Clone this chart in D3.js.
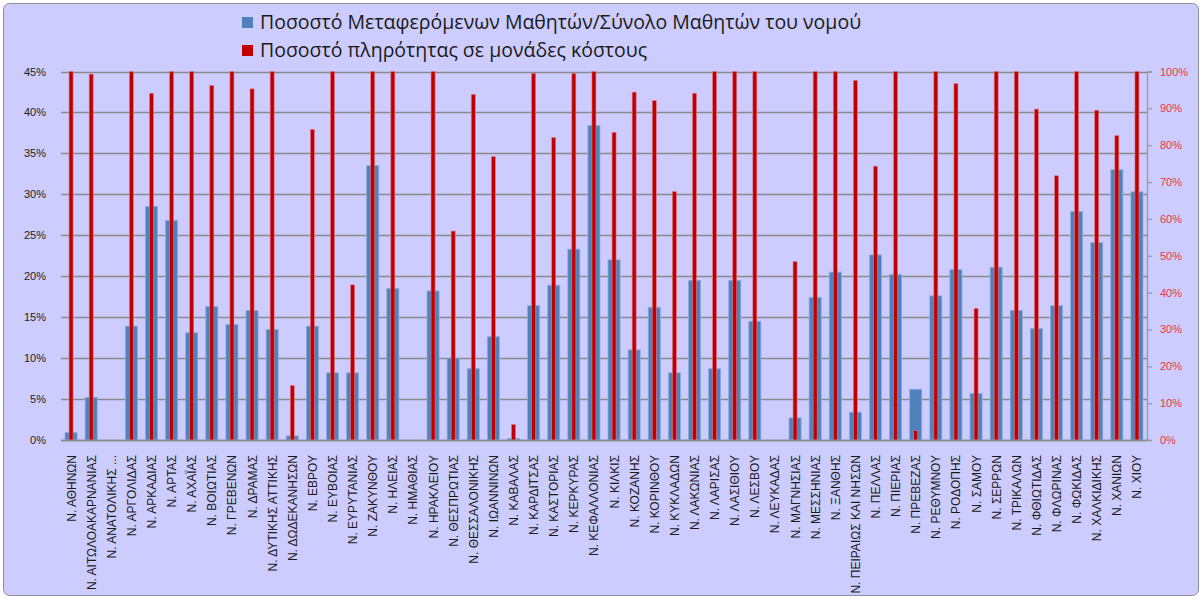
<!DOCTYPE html>
<html><head><meta charset="utf-8">
<script src="https://cdn.jsdelivr.net/npm/d3@7"></script>
<style>
html,body{margin:0;padding:0;background:#fff;}
svg{display:block;}
</style></head>
<body>
<svg id="chart" width="1203" height="603"></svg>
<script>
const categories = ["Ν. ΑΘΗΝΩΝ","Ν. ΑΙΤΩΛΟΑΚΑΡΝΑΝΙΑΣ","Ν. ΑΝΑΤΟΛΙΚΗΣ ...","Ν. ΑΡΓΟΛΙΔΑΣ","Ν. ΑΡΚΑΔΙΑΣ","Ν. ΑΡΤΑΣ","Ν. ΑΧΑΪΑΣ","Ν. ΒΟΙΩΤΙΑΣ","Ν. ΓΡΕΒΕΝΩΝ","Ν. ΔΡΑΜΑΣ","Ν. ΔΥΤΙΚΗΣ  ΑΤΤΙΚΗΣ","Ν. ΔΩΔΕΚΑΝΗΣΩΝ","Ν. ΕΒΡΟΥ","Ν. ΕΥΒΟΙΑΣ","Ν. ΕΥΡΥΤΑΝΙΑΣ","Ν. ΖΑΚΥΝΘΟΥ","Ν. ΗΛΕΙΑΣ","Ν. ΗΜΑΘΙΑΣ","Ν. ΗΡΑΚΛΕΙΟΥ","Ν. ΘΕΣΠΡΩΤΙΑΣ","Ν. ΘΕΣΣΑΛΟΝΙΚΗΣ","Ν. ΙΩΑΝΝΙΝΩΝ","Ν. ΚΑΒΑΛΑΣ","Ν. ΚΑΡΔΙΤΣΑΣ","Ν. ΚΑΣΤΟΡΙΑΣ","Ν. ΚΕΡΚΥΡΑΣ","Ν. ΚΕΦΑΛΛΟΝΙΑΣ","Ν. ΚΙΛΚΙΣ","Ν. ΚΟΖΑΝΗΣ","Ν. ΚΟΡΙΝΘΟΥ","Ν. ΚΥΚΛΑΔΩΝ","Ν. ΛΑΚΩΝΙΑΣ","Ν. ΛΑΡΙΣΑΣ","Ν. ΛΑΣΙΘΙΟΥ","Ν. ΛΕΣΒΟΥ","Ν. ΛΕΥΚΑΔΑΣ","Ν. ΜΑΓΝΗΣΙΑΣ","Ν. ΜΕΣΣΗΝΙΑΣ","Ν. ΞΑΝΘΗΣ","Ν. ΠΕΙΡΑΙΩΣ ΚΑΙ ΝΗΣΩΝ","Ν. ΠΕΛΛΑΣ","Ν. ΠΙΕΡΙΑΣ","Ν. ΠΡΕΒΕΖΑΣ","Ν. ΡΕΘΥΜΝΟΥ","Ν. ΡΟΔΟΠΗΣ","Ν. ΣΑΜΟΥ","Ν. ΣΕΡΡΩΝ","Ν. ΤΡΙΚΑΛΩΝ","Ν. ΦΘΙΩΤΙΔΑΣ","Ν. ΦΛΩΡΙΝΑΣ","Ν. ΦΩΚΙΔΑΣ","Ν. ΧΑΛΚΙΔΙΚΗΣ","Ν. ΧΑΝΙΩΝ","Ν. ΧΙΟΥ"];

// Ποσοστό Μεταφερόμενων Μαθητών/Σύνολο Μαθητών του νομού (left axis)
const transferred = [0.009,0.052,0,0.139,0.285,0.268,0.131,0.163,0.141,0.158,0.135,0.005,0.139,0.082,0.082,0.335,0.185,0,0.182,0.100,0.087,0.126,0.002,0.164,0.189,0.233,0.384,0.220,0.110,0.162,0.082,0.195,0.087,0.195,0.145,0,0.027,0.174,0.205,0.034,0.226,0.202,0.062,0.176,0.208,0.057,0.211,0.158,0.136,0.164,0.279,0.241,0.330,0.303];

// Ποσοστό πληρότητας σε μονάδες κόστους (right axis)
const occupancy = [1.00,0.993,0,1.00,0.941,1.00,1.00,0.962,1.00,0.953,1.00,0.148,0.843,1.00,0.421,1.00,1.00,0,1.00,0.567,0.938,0.769,0.042,0.995,0.821,0.995,1.00,0.835,0.944,0.921,0.674,0.941,1.00,1.00,1.00,0,0.484,1.00,1.00,0.976,0.743,1.00,0.026,1.00,0.967,0.357,1.00,1.00,0.898,0.717,1.00,0.895,0.826,1.00];

const leftTicks = [0,0.05,0.10,0.15,0.20,0.25,0.30,0.35,0.40,0.45];
const rightTicks = [0,0.1,0.2,0.3,0.4,0.5,0.6,0.7,0.8,0.9,1.0];
const seriesNames = ["Ποσοστό Μεταφερόμενων Μαθητών/Σύνολο Μαθητών του νομού","Ποσοστό πληρότητας σε μονάδες κόστους"];

const svg = d3.select("#chart");
const plot = {left: 61, right: 1147, top: 71.5, bottom: 440};
const font = "'Liberation Sans', Arial, sans-serif";

// Chart area
svg.append("rect").attr("x",3.5).attr("y",3.5).attr("width",1195).attr("height",592)
  .attr("rx",6).attr("fill","#CCCCFF").attr("stroke","#8E8E9A").attr("stroke-width",1);

const x = d3.scaleBand().domain(categories).range([plot.left, plot.right]).paddingInner(0.4).paddingOuter(0.2);
const xRed = d3.scaleBand().domain(categories).range([plot.left, plot.right]).paddingInner(0.8).paddingOuter(0.4);
const yL = d3.scaleLinear().domain([0,0.45]).range([plot.bottom, plot.top]);
const yR = d3.scaleLinear().domain([0,1]).range([plot.bottom, plot.top]);

// gridlines
svg.append("g").selectAll("line").data(leftTicks).join("line")
  .attr("x1",plot.left).attr("x2",plot.right)
  .attr("y1",d=>Math.round(yL(d))+0.5).attr("y2",d=>Math.round(yL(d))+0.5)
  .attr("stroke","#8A8A8A").attr("stroke-width",1.3);

// left axis labels
svg.append("g").selectAll("text").data(leftTicks).join("text")
  .attr("x",46).attr("y",d=>yL(d)+4)
  .attr("text-anchor","end").attr("font-family",font).attr("font-size",11).attr("fill","#222")
  .text(d=>d3.format(".0%")(d));

// blue bars
svg.append("g").selectAll("rect").data(categories).join("rect")
  .attr("x",d=>x(d)).attr("width",x.bandwidth())
  .attr("y",(d,i)=>yL(transferred[i])).attr("height",(d,i)=>plot.bottom-yL(transferred[i]))
  .attr("fill","#4F81BD").attr("stroke","#8EACD8").attr("stroke-width",0.8)
  .attr("display",(d,i)=>transferred[i]>0?null:"none");

// red bars
svg.append("g").selectAll("rect").data(categories).join("rect")
  .attr("x",d=>xRed(d)).attr("width",xRed.bandwidth())
  .attr("y",(d,i)=>yR(occupancy[i])).attr("height",(d,i)=>plot.bottom-yR(occupancy[i]))
  .attr("fill","#C00000").attr("stroke","#E07A8A").attr("stroke-width",0.6)
  .attr("display",(d,i)=>occupancy[i]>0?null:"none");

// bottom axis line
svg.append("line").attr("x1",plot.left).attr("x2",plot.right)
  .attr("y1",plot.bottom+0.5).attr("y2",plot.bottom+0.5).attr("stroke","#8A8A8A").attr("stroke-width",1.5);

// right axis
const gR = svg.append("g").attr("transform",`translate(${plot.right},0)`)
  .call(d3.axisRight(yR).tickValues(rightTicks).tickSize(5).tickFormat(d3.format(".0%")));
gR.select(".domain").attr("stroke","#9A9A9A").attr("stroke-width",1.3);
gR.selectAll(".tick line").attr("stroke","#9A9A9A").attr("stroke-width",1.3);
gR.selectAll(".tick text").attr("x",13).attr("font-family",font).attr("font-size",11).attr("fill","#EE3344");

// category labels
svg.append("g").selectAll("text").data(categories).join("text")
  .attr("transform",d=>`translate(${x(d)+x.bandwidth()/2+4.5},455) rotate(-90)`)
  .attr("text-anchor","end").attr("font-family",font).attr("font-size",12).attr("fill","#1a1a1a")
  .text(d=>d);

// legend
const legend = svg.append("g");
const legendColors = ["#4F81BD","#C00000"];
seriesNames.forEach((name,i)=>{
  const ly = 22 + i*28;
  legend.append("rect").attr("x",242).attr("y",ly-5).attr("width",11).attr("height",11).attr("fill",legendColors[i]);
  legend.append("text").attr("x",260).attr("y",ly+7).attr("font-family","'Open Sans', 'Liberation Sans', sans-serif")
    .attr("font-size",19.5).attr("fill","#1a1a1a").text(name);
});
</script>
</body></html>
